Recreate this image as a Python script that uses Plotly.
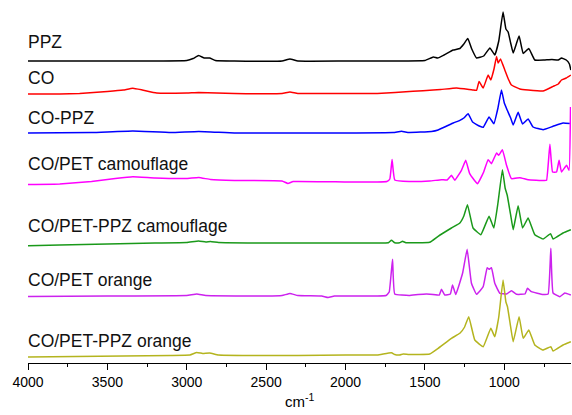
import plotly.graph_objects as go

# ---- data (wavenumber in cm-1, relative absorbance) ----
labels = ["PPZ", "CO", "CO-PPZ", "CO/PET camouflage", "CO/PET-PPZ camouflage",
          "CO/PET orange", "CO/PET-PPZ orange"]
colors = ["#000000", "#ff0000", "#0000ff", "#ff00ff", "#1a991a", "#cc22ee", "#b4b41e"]
offsets = [302, 269, 230, 181, 120, 67, 6]
label_y = [321, 285, 245, 199, 137, 83, 22]

ppz_wn = [4000, 3600, 3200, 3000, 2960, 2925, 2890, 2856, 2820, 2700, 2400, 2350, 2300, 2000, 1700,
          1500, 1447, 1420, 1380, 1322, 1280, 1255, 1230, 1205, 1175, 1130, 1091, 1060, 1035, 1008,
          990, 976, 960, 944, 907, 881, 846, 808, 750, 700, 660, 640, 610, 590, 581]
ppz_ab = [0, 0, 0, 0.5, 2.5, 5.5, 3, 3, 0.5, 0, 0, 2, 0, 0, 0,
          0.5, 4, 3, 6, 11, 12.5, 17, 22.5, 12, 3, 5, 13, 6, 20, 49,
          32, 29, 18, 8, 25, 7.5, 12.5, 1, 1, 1.5, 1, 3, 1, -3, -9]

co_wn = [4000, 3800, 3675, 3500, 3400, 3340, 3280, 3190, 3000, 2925, 2700, 2400, 2350, 2300, 2000,
         1800, 1575, 1448, 1400, 1301, 1200, 1175, 1159, 1133, 1102, 1085, 1065, 1049, 1039, 1024,
         997, 975, 955, 902, 850, 756, 693, 660, 640, 610, 581]
co_ab = [0, 0, 0.5, 2.5, 4, 5.7, 4, 1, 1, 1.5, 0.5, 0.5, 2, 0.5, 0.5,
         0.5, 2.7, 4, 4.5, 6, 4, 3.7, 12.6, 6, 19, 14, 25, 37.6, 31, 35,
         24, 15, 9, 5, 4, 3, 7.6, 10, 14, 16, 19]

coppz_wn = [4000, 3600, 3340, 3100, 2925, 2700, 2400, 2000, 1700, 1648, 1600, 1459, 1417, 1322,
            1280, 1255, 1228, 1200, 1154, 1133, 1096, 1066, 1040, 1018, 1000, 982, 960, 944, 913,
            885, 850, 819, 756, 693, 630, 587]
coppz_ab = [0, 0.5, 2, 0.5, 1.5, 0, 0, 0, 0.5, 1.7, 0.5, 1.5, 3, 10,
            12.7, 15, 19.3, 11, 6.7, 5.7, 16, 9.3, 25, 43, 30, 23, 15, 8, 20.7,
            9, 14, 6, 3.3, 6.7, 10, 9.5]

copetc_wn = [4000, 3800, 3600, 3450, 3340, 3200, 3000, 2925, 2850, 2700, 2400, 2363, 2330, 2000,
             1800, 1740, 1721, 1707, 1690, 1600, 1470, 1396, 1360, 1333, 1312, 1270, 1243, 1218,
             1190, 1169, 1130, 1102, 1081, 1049, 1035, 1012, 986, 955, 902, 850, 750, 734, 713,
             696, 671, 655, 640, 608, 592, 583]
copetc_ab = [-2.5, -2, 0.5, 3.5, 5.3, 4, 3.5, 4.5, 2.5, 1.5, 1, -1.5, 0.5, 0,
             0, 0.5, 3, 22.4, 2, 0.5, 1, 2.3, 2, 6.7, 1.7, 11.7, 21.7, 8.3,
             2, -1.7, 10, 22.3, 18.3, 29, 26.7, 32.3, 16.7, 3.3, 4.3, 2.3, 1.5, 1.7, 37.7,
             10, 10, 21.7, 10, 16.7, 11.7, 75]

copetppzc_wn = [4000, 3800, 3500, 3200, 3000, 2925, 2880, 2850, 2800, 2500, 2000, 1800, 1730,
                1711, 1690, 1660, 1641, 1620, 1470, 1417, 1333, 1280, 1255, 1232, 1197, 1148,
                1096, 1066, 1040, 1012, 995, 982, 960, 944, 913, 885, 850, 808, 756, 709, 693,
                630, 581]
copetppzc_ab = [-2.7, -2, -1, 0, 0.5, 2, 1, 1.5, 0.5, 0, 0, 0, 0.3,
                2.7, 0.3, 0.3, 1.7, 0.3, 0.7, 6.7, 15, 20, 27, 38.3, 15, 8.3,
                26.7, 15, 40, 73.3, 55, 48, 28, 13.3, 37.3, 15, 25, 8.3, 4, 9.3, 4,
                10, 13.3]

copeto_wn = [4000, 3500, 3000, 2937, 2880, 2500, 2400, 2350, 2300, 2150, 2110, 2070, 1800, 1745,
             1725, 1704, 1690, 1600, 1543, 1490, 1410, 1396, 1375, 1340, 1326, 1306, 1263, 1234,
             1207, 1175, 1133, 1108, 1096, 1081, 1060, 1028, 986, 955, 923, 870, 854, 829, 756,
             724, 707, 693, 650, 619, 581]
copeto_ab = [-0.5, 0, 0.5, 2, 0.5, 0, 0.5, 2.5, 0.5, 0, -1.5, 0, 0, 0.5,
             4, 36.7, 2, 0.5, 1.5, 2, 1, 6.7, 1, 2, 11, 1.5, 22.7, 46.7,
             12.7, 1.7, 9.3, 28.3, 26.7, 28.3, 12.7, 2.7, 2, 5.3, 1.7, 2, 7.7, 4.3, 1.5,
             2, 47.7, 3, -0.7, 3, 1]

copetppzo_wn = [4000, 3700, 3400, 3100, 2980, 2937, 2900, 2856, 2800, 2600, 2300, 2000, 1800,
                1711, 1690, 1660, 1637, 1600, 1470, 1417, 1333, 1280, 1250, 1224, 1186, 1133,
                1085, 1060, 1035, 1008, 990, 980, 960, 944, 907, 881, 846, 808, 756, 707, 693,
                630, 581]
copetppzo_ab = [0, 0.5, 1, 1.5, 2, 4.5, 3.5, 4, 2, 1.5, 1.5, 2, 2,
                4.3, 2.5, 2, 3, 2.5, 3, 8.7, 18.7, 23.7, 30, 40.3, 17, 10.3,
                28.7, 20.3, 40, 77, 55, 50.3, 30, 15.3, 40.3, 18.7, 27, 12, 7, 10.3, 6,
                12, 15.3]

x_ticks = [4000, 3500, 3000, 2500, 2000, 1500, 1000]
x_title = "cm<sup>-1</sup>"

series_wn = [ppz_wn, co_wn, coppz_wn, copetc_wn, copetppzc_wn, copeto_wn, copetppzo_wn]
series_ab = [ppz_ab, co_ab, coppz_ab, copetc_ab, copetppzc_ab, copeto_ab, copetppzo_ab]

FONT = "Liberation Sans, Arial, sans-serif"

fig = go.Figure()
for name, col, off, wn, ab in zip(labels, colors, offsets, series_wn, series_ab):
    fig.add_trace(go.Scatter(
        x=wn, y=[off + a for a in ab], mode="lines", name=name,
        line=dict(color=col, width=1.5, shape="spline", smoothing=0.3),
        showlegend=False, hoverinfo="skip"))

for name, ly in zip(labels, label_y):
    fig.add_annotation(x=0, xref="paper", y=ly, yref="y", text=name, showarrow=False,
                       xanchor="left", yanchor="middle", xshift=-2,
                       font=dict(family=FONT, size=17.5, color="#111111"))

fig.add_annotation(x=0.5, xref="paper", y=-0.102, yref="paper", text=x_title, showarrow=False,
                   xanchor="center", yanchor="middle",
                   font=dict(family=FONT, size=15, color="black"))

fig.update_layout(
    width=572, height=415,
    margin=dict(l=28, r=1, t=0, b=52, autoexpand=False),
    paper_bgcolor="white", plot_bgcolor="white",
    font=dict(family=FONT, color="black"),
    xaxis=dict(range=[4000, 580], tickvals=x_ticks, ticktext=[str(v) for v in x_ticks],
               automargin=False,
               showgrid=False, zeroline=False, showline=True, linecolor="black", linewidth=1.3,
               ticks="outside", ticklen=6, tickwidth=1.3, tickcolor="black",
               tickfont=dict(family=FONT, size=14, color="black"),
               minor=dict(dtick=250, ticks="outside", ticklen=3, tickwidth=1.2, tickcolor="black",
                          tick0=4000)),
    yaxis=dict(range=[0, 363], visible=False, fixedrange=True),
)

fig.write_html("out.html", config={"displayModeBar": False},
               post_script="document.body.style.margin='0';document.body.style.padding='0';"
                           "document.body.style.overflow='hidden';")
